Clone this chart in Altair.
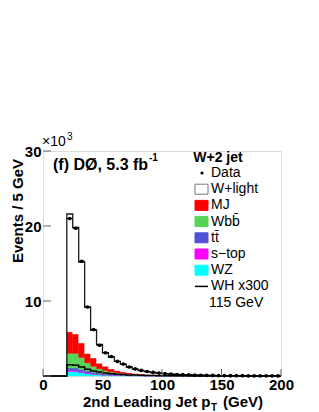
import altair as alt
import pandas as pd

# ---------------- data (in units of 10^3 events / 5 GeV) ----------------
bin_lo = list(range(20, 200, 5))  # 36 filled bins, 20..200 GeV
empty_lo = [0, 5, 10, 15]

wlight = [15.7, 14.2, 10.8, 6.2, 3.7, 2.5, 1.8, 1.55, 1.23, 1.0, 0.78, 0.59, 0.46, 0.38,
          0.31, 0.25, 0.21, 0.175, 0.14, 0.112, 0.092, 0.08, 0.066, 0.056, 0.048, 0.042,
          0.035, 0.031, 0.027, 0.024, 0.02, 0.017, 0.015, 0.013, 0.012, 0.011]
mj = [2.88, 2.59, 1.93, 1.24, 1.10, 0.74, 0.58, 0.41, 0.30, 0.23, 0.17, 0.13, 0.10, 0.073,
      0.058, 0.047, 0.033, 0.03, 0.025, 0.021, 0.017, 0.014, 0.012, 0.01, 0.008, 0.007,
      0.006, 0.005, 0.004, 0.004, 0.0035, 0.003, 0.003, 0.0025, 0.002, 0.002]
wbb = [1.95, 1.95, 1.6, 1.1, 0.8, 0.57, 0.42, 0.31, 0.23, 0.17, 0.13, 0.1, 0.08, 0.062,
       0.049, 0.039, 0.031, 0.025, 0.02, 0.016, 0.013, 0.011, 0.009, 0.0075, 0.0065, 0.0055,
       0.0045, 0.004, 0.0035, 0.003, 0.0025, 0.002, 0.002, 0.0015, 0.0015, 0.001]
ttbar = [0.35, 0.36, 0.32, 0.26, 0.21, 0.17, 0.14, 0.11, 0.09, 0.075, 0.062, 0.051, 0.042,
         0.035, 0.029, 0.024, 0.02, 0.017, 0.014, 0.012, 0.01, 0.009, 0.008, 0.007, 0.006,
         0.005, 0.0045, 0.004, 0.0035, 0.003, 0.003, 0.0025, 0.002, 0.002, 0.002, 0.0015]
stop = [0.12, 0.12, 0.10, 0.08, 0.06, 0.05, 0.04, 0.03, 0.025, 0.02, 0.016, 0.013, 0.011,
        0.009, 0.007, 0.006, 0.005, 0.004, 0.0035, 0.003, 0.0025, 0.002, 0.002, 0.0015,
        0.0015, 0.001, 0.001, 0.001, 0.001, 0.001, 0.001, 0.001, 0.001, 0.001, 0.001, 0.001]
wz = [0.60, 0.58, 0.45, 0.32, 0.23, 0.17, 0.12, 0.09, 0.07, 0.055, 0.043, 0.034, 0.027,
      0.021, 0.017, 0.014, 0.011, 0.009, 0.007, 0.006, 0.005, 0.004, 0.0035, 0.003, 0.0025,
      0.002, 0.002, 0.0015, 0.0015, 0.001, 0.001, 0.001, 0.001, 0.001, 0.001, 0.001]
data_vals = [21.0, 19.7, 15.3, 9.2, 6.2, 4.1, 3.1, 2.6, 1.95, 1.6, 1.2, 0.95, 0.75, 0.6,
             0.47, 0.39, 0.32, 0.26, 0.2, 0.17, 0.15, 0.12, 0.1, 0.09, 0.07, 0.06, 0.055,
             0.045, 0.04, 0.035, 0.03, 0.025, 0.022, 0.02, 0.018, 0.015]
wh300 = [1.5, 1.45, 1.2, 0.9, 0.68, 0.52, 0.4, 0.31, 0.24, 0.19, 0.15, 0.12, 0.095, 0.075,
         0.06, 0.048, 0.04, 0.033, 0.027, 0.022, 0.018, 0.015, 0.012, 0.01, 0.008, 0.007,
         0.006, 0.005, 0.004, 0.004, 0.003, 0.003, 0.002, 0.002, 0.002, 0.002]

comp_names = ["WZ", "s-top", "tt", "Wbb", "MJ", "W+light"]
comp_vals = [wz, stop, ttbar, wbb, mj, wlight]
comp_colors = ["#00ffff", "#ff00ff", "#5252d6", "#55d455", "#ff0000", "#ffffff"]

x_ticks = [0, 50, 100, 150, 200]
y_ticks = [0, 10, 20, 30]

legend_labels = ["Data", "W+light", "MJ", "Wbb\u0304", "tt\u0304", "s\u2212top", "WZ", "WH x300"]
legend_kinds = ["dot", "box", "box", "box", "box", "box", "box", "line"]
legend_colors = ["#000000", "#ffffff", "#ff0000", "#55d455", "#5252d6", "#ff00ff", "#00ffff", "#000000"]

# ---------------- tables ----------------
rows = []
totals = []
for i, lo in enumerate(bin_lo):
    base = 0.0
    for name, vals in zip(comp_names, comp_vals):
        rows.append(dict(lo=lo, hi=lo + 5, comp=name, y0=base, y1=base + vals[i]))
        base += vals[i]
    totals.append(base)
stack_df = pd.DataFrame(rows)

edge_x = empty_lo + bin_lo + [200]
outline_df = pd.DataFrame({"x": edge_x, "y": [0] * len(empty_lo) + totals + [totals[-1]]})
wh_df = pd.DataFrame({"x": edge_x, "y": [0] * len(empty_lo) + wh300 + [wh300[-1]]})
data_df = pd.DataFrame({"lo": bin_lo, "hi": [b + 5 for b in bin_lo],
                        "c": [b + 2.5 for b in bin_lo], "y": data_vals})

FONT = "Liberation Sans"
W, H = 238, 225
xs = alt.Scale(domain=[0, 200], nice=False, zero=False)
ys = alt.Scale(domain=[0, 30], nice=False)

xaxis = alt.Axis(values=x_ticks, ticks=False, domain=False, grid=False, labelFont=FONT,
                 labelFontWeight="bold", labelFontSize=15, labelPadding=1, title=None,
                 labelColor="black", labelFlush=False, labelBaseline="top")
yaxis = alt.Axis(values=[10, 20, 30], ticks=False, domain=False, grid=False, labelFont=FONT,
                 labelFontWeight="bold", labelFontSize=15, labelPadding=2, title=None,
                 labelColor="black")

stack = alt.Chart(stack_df).mark_rect(strokeWidth=0.4).encode(
    x=alt.X("lo:Q", scale=xs, axis=xaxis),
    x2="hi:Q",
    y=alt.Y("y0:Q", scale=ys, axis=yaxis),
    y2="y1:Q",
    fill=alt.Fill("comp:N", scale=alt.Scale(domain=comp_names, range=comp_colors), legend=None),
    stroke=alt.Stroke("comp:N", scale=alt.Scale(domain=comp_names, range=comp_colors), legend=None),
)

outline = alt.Chart(outline_df).mark_line(interpolate="step-after", color="#1a1a1a",
                                          strokeWidth=1.3).encode(
    x=alt.X("x:Q", scale=xs), y=alt.Y("y:Q", scale=ys))
whline = alt.Chart(wh_df).mark_line(interpolate="step-after", color="black",
                                    strokeWidth=1.5).encode(
    x=alt.X("x:Q", scale=xs), y=alt.Y("y:Q", scale=ys))

data_bar = alt.Chart(data_df).mark_rule(color="black", strokeWidth=1.2).encode(
    x=alt.X("lo:Q", scale=xs), x2="hi:Q", y=alt.Y("y:Q", scale=ys))
data_pt = alt.Chart(data_df).mark_circle(color="black", size=14, opacity=1).encode(
    x=alt.X("c:Q", scale=xs), y=alt.Y("y:Q", scale=ys))

# inward ticks
xt_df = pd.DataFrame({"t": x_ticks})
yt_df = pd.DataFrame({"t": y_ticks})
xticks = alt.Chart(xt_df).mark_rule(color="#666", strokeWidth=1).encode(
    x=alt.X("t:Q", scale=xs), y=alt.value(H), y2=alt.value(H - 7))
yticks = alt.Chart(yt_df).mark_rule(color="#666", strokeWidth=1).encode(
    y=alt.Y("t:Q", scale=ys), x=alt.value(0), x2=alt.value(8))

one = pd.DataFrame({"a": [0]})


def txt(s, x, y, size=14, weight="normal", align="left", baseline="alphabetic", angle=None):
    kw = dict(font=FONT, fontSize=size, fontWeight=weight, align=align, baseline=baseline,
              color="black")
    if angle is not None:
        kw["angle"] = angle
    return alt.Chart(one).mark_text(**kw).encode(x=alt.value(x), y=alt.value(y), text=alt.value(s))


layers = [stack, outline, whline, data_bar, data_pt, xticks, yticks]

# annotations
layers.append(txt("(f) D\u00d8, 5.3 fb", 10, 19, size=16, weight="bold"))
layers.append(txt("-1", 106, 10, size=10, weight="bold"))
layers.append(txt("\u00d710", -1, -5, size=14))
layers.append(txt("3", 24, -11, size=10))
layers.append(txt("W+2 jet", 175, 7, size=14, weight="bold", align="center", baseline="middle"))
layers.append(txt("Events / 5 GeV", -25, 60, size=15, weight="bold", align="center",
                  baseline="middle", angle=270))
layers.append(txt("2nd Leading Jet p", 40, 256, size=15, weight="bold"))
layers.append(txt("T", 168, 260, size=10, weight="bold"))
layers.append(txt("(GeV)", 180, 256, size=15, weight="bold"))

# legend
for i, (lab, kind, col) in enumerate(zip(legend_labels, legend_kinds, legend_colors)):
    yc = 22 + 16.2 * i
    if kind == "box":
        layers.append(alt.Chart(one).mark_rect(
            fill=col, stroke="#777" if col == "#ffffff" else col, strokeWidth=1).encode(
            x=alt.value(152), x2=alt.value(165), y=alt.value(yc - 5), y2=alt.value(yc + 5)))
    elif kind == "dot":
        layers.append(alt.Chart(one).mark_circle(color="black", size=10, opacity=1).encode(
            x=alt.value(159), y=alt.value(yc)))
    else:
        layers.append(alt.Chart(one).mark_rule(color="black", strokeWidth=1.5).encode(
            x=alt.value(152), x2=alt.value(165), y=alt.value(yc)))
    layers.append(txt(lab, 168, yc, size=14, baseline="middle"))
layers.append(txt("115 GeV", 166, 22 + 16.2 * 8, size=14, baseline="middle"))

chart = alt.layer(*layers).properties(
    width=W, height=H,
    padding={"left": 35, "top": 143, "right": 30, "bottom": 36},
    autosize=alt.AutoSizeParams(type="none"),
).configure_view(stroke="#777", strokeWidth=1).configure(background="white")

chart.save("out.html", embed_options={"renderer": "svg", "actions": False})
